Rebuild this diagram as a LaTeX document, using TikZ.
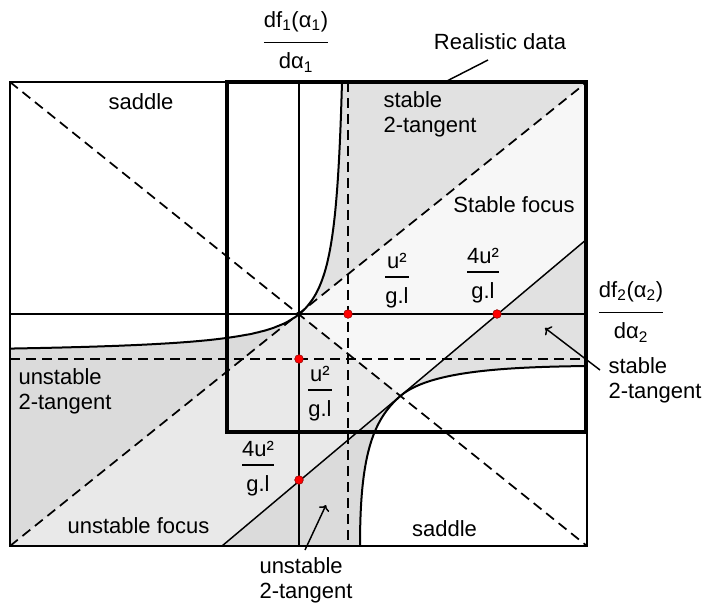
\documentclass[tikz,border=0pt]{standalone}
\usepackage{fontspec}
\setmainfont{Liberation Sans}
\usetikzlibrary{arrows.meta}

\definecolor{stabtwo}{HTML}{E1E1E1}
\definecolor{unsttwo}{HTML}{DBDBDB}
\definecolor{stabfoc}{HTML}{F7F7F7}
\definecolor{unstfoc}{HTML}{E9E9E9}

\setlength{\arrayrulewidth}{1.3pt}
\newcommand{\vfrac}[3][0pt]{\begin{tabular}{@{}c@{}}#2\\[#1]\hline\rule{0pt}{19pt}#3\end{tabular}}

\begin{document}
\begin{tikzpicture}[x=0.75pt, y=-0.75pt, font=\fontsize{16.5}{19}\selectfont,
    frame/.style={line width=1.5pt},
    axis/.style={line width=1.5pt},
    guide/.style={line width=1.3pt, dash pattern=on 7.5pt off 4.5pt},
    curve/.style={line width=1.5pt},
    leader/.style={line width=1.1pt},
    dot/.style={circle, fill=red, draw=red!55!black, line width=0.4pt, inner sep=0pt, minimum size=6.5pt},
    lbl/.style={inner sep=0pt, align=left}]
    \useasboundingbox (0,0) rectangle (702,605);

    % Regions
    \fill[stabfoc] (299,314) -- (587,82) -- (587,239) -- (401,395.5) -- cycle;
    \fill[unstfoc] (299,314) -- (401,395.5) -- (222,546) -- (10,546) -- cycle;
    \fill[stabtwo] (587,82) -- plot[domain=2.0162:3.9220, samples=60, variable=\s]
        ({349.5-exp(\s)}, {354.6-2048*exp(-\s)}) -- cycle;
    \fill[unsttwo] plot[domain=3.9220:5.8274, samples=60, variable=\s]
        ({349.5-exp(\s)}, {354.6-2048*exp(-\s)}) -- (10,546) -- cycle;
    \fill[stabtwo] (401,395.5) .. controls (431,370.3) and (510,367) .. (587,366) -- (587,239) -- cycle;
    \fill[unsttwo] (401,395.5) .. controls (371,420.7) and (360,460) .. (360,546) -- (222,546) -- cycle;

    % Frame and axes
    \draw[frame] (10,82) rectangle (587,546);
    \draw[axis] (299,82) -- (299,546);
    \draw[axis] (10,314) -- (587,314);

    % Asymptotes and diagonals
    \draw[guide] (348,82) -- (348,546);
    \draw[guide] (10,359) -- (587,359);
    \draw[guide] (10,82) -- (587,546);
    \draw[guide] (10,546) -- (587,82);

    % 4u^2/g.l line
    \draw[line width=1.1pt] (222,546) -- (587,239);

    % Saddle borders
    \draw[curve] plot[domain=2.0162:5.8274, samples=120, variable=\s]
        ({349.5-exp(\s)}, {354.6-2048*exp(-\s)});
    \draw[curve] (360,546) .. controls (360,460) and (371,420.7) .. (401,395.5)
        .. controls (431,370.3) and (510,367) .. (587,366);

    % Realistic data box
    \draw[line width=3pt] (227,82) rectangle (585.5,432);

    % Intersections
    \node[dot] (dua) at (348,314) {};
    \node[dot] (dfa) at (497,314) {};
    \node[dot] (dub) at (299,359) {};
    \node[dot] (dfb) at (299,480) {};

    % Axis labels
    \node[inner sep=0pt] (dfone) at (296,43) {\vfrac[5pt]{df\textsubscript{1}(α\textsubscript{1})}{dα\textsubscript{1}}};
    \node[inner sep=0pt] (dftwo) at (631,313) {\vfrac[5pt]{df\textsubscript{2}(α\textsubscript{2})}{dα\textsubscript{2}}};

    % Values
    \node[inner sep=0pt] (ua) at (397,281) {\vfrac{u²}{g.l}};
    \node[inner sep=0pt] (fa) at (483,276) {\vfrac{4u²}{g.l}};
    \node[inner sep=0pt] (ub) at (320,394) {\vfrac{u²}{g.l}};
    \node[inner sep=0pt] (fb) at (258,469) {\vfrac{4u²}{g.l}};

    % Region names
    \node[lbl] (sadtop) at (141,102) {saddle};
    \node[lbl] (sadbot) at (444.5,529) {saddle};
    \node[lbl] (sttop) at (430,114.5) {stable\\2-tangent};
    \node[lbl] (stfoc) at (514,205) {Stable focus};
    \node[lbl] (unleft) at (65,391.5) {unstable\\2-tangent};
    \node[lbl] (unfoc) at (138.5,526) {unstable focus};
    \node[lbl] (stright) at (655,380) {stable\\2-tangent};
    \node[lbl] (unbot) at (306,580.5) {unstable\\2-tangent};
    \node[lbl] (real) at (500,42) {Realistic data};

    % Pointers
    \coordinate (realfrom) at (488,60);
    \coordinate (realfoot) at (445,82);
    \draw[leader] (realfrom) -- (realfoot);
    \coordinate (stfrom) at (600,370);
    \coordinate (sttip) at (545,328);
    \draw[leader, ->] (stfrom) -- (sttip);
    \coordinate (unfrom) at (305,550);
    \coordinate (untip) at (326,505);
    \draw[leader, ->] (unfrom) -- (untip);
\end{tikzpicture}
\end{document}
